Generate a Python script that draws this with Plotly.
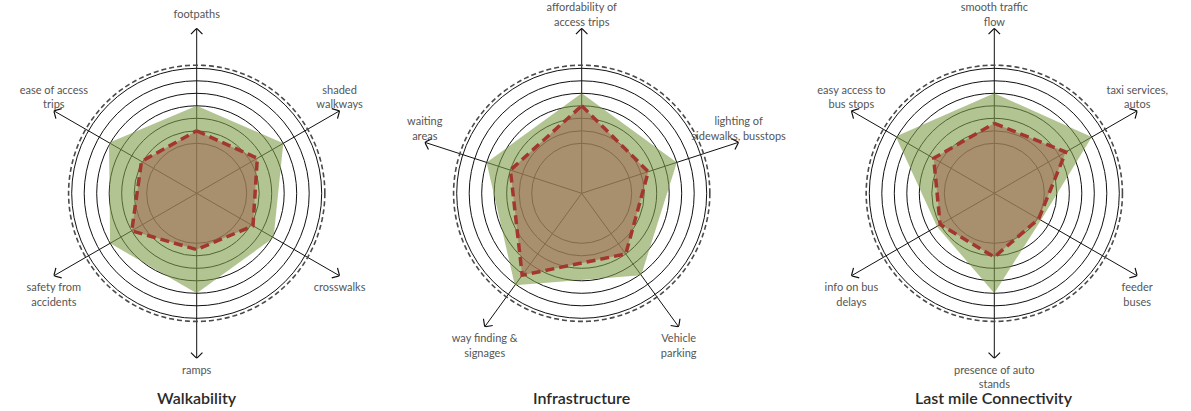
import numpy as np
import plotly.graph_objects as go

# ---------------- data ----------------
walk_title = "Walkability"
walk_cats = ["footpaths", "shaded<br>walkways", "crosswalks", "ramps",
             "safety from<br>accidents", "ease of access<br>trips"]
walk_green = [7.0, 8.0, 7.1, 8.0, 8.0, 8.1]
walk_red = [5.0, 5.6, 5.2, 4.5, 6.0, 5.1]

infra_title = "Infrastructure"
infra_cats = ["affordability of<br>access trips", "lighting of<br>sidewalks, busstops",
              "Vehicle<br>parking", "way finding &amp;<br>signages", "waiting<br>areas"]
infra_green = [8.0, 8.0, 8.1, 9.1, 8.0]
infra_red = [7.0, 5.6, 6.0, 8.1, 6.0]

last_title = "Last mile Connectivity"
last_cats = ["smooth traffic<br>flow", "taxi services,<br>autos", "feeder<br>buses",
             "presence of auto<br>stands", "info on bus<br>delays", "easy access to<br>bus stops"]
last_green = [8.0, 9.0, 4.3, 8.0, 5.3, 9.1]
last_red = [5.6, 6.6, 4.1, 5.1, 5.0, 5.6]

circle_levels = [4, 5, 6, 7, 8, 9, 10]
outer_dashed_level = 10.25
axis_length = 13.2

# ---------------- styling ----------------
W, H = 1191, 411
centers_px = [(196.7, 193.3), (581.7, 193.3), (994.3, 193.3)]
radius_px = 165.0
FONT = "Lato"
GREEN = "rgba(127,157,72,0.6)"
BROWN = "rgba(161,109,87,0.6)"
RED = "#a3372f"

charts = [
    (walk_title, walk_cats, walk_green, walk_red),
    (infra_title, infra_cats, infra_green, infra_red),
    (last_title, last_cats, last_green, last_red),
]

fig = go.Figure()
layout_polars = {}
annotations = []


def to_polar(x, y):
    return float(np.hypot(x, y)), float(np.degrees(np.arctan2(y, x)))


for i, (title, cats, green, red) in enumerate(charts):
    sub = "polar" if i == 0 else f"polar{i+1}"
    n = len(cats)
    ang = [90 - k * 360.0 / n for k in range(n)]

    # dashed outer circle
    th = np.linspace(0, 360, 361)
    fig.add_trace(go.Scatterpolar(
        r=[outer_dashed_level] * len(th), theta=th, mode="lines",
        line=dict(color="#4a4a4a", width=1.6, dash="5px,3px"),
        subplot=sub, hoverinfo="skip", showlegend=False))

    # arrow heads (chevrons) at axis tips
    rr, tt = [], []
    arm, spread = 0.65, 45
    for a in ang:
        ar = np.radians(a)
        tip = np.array([axis_length * np.cos(ar), axis_length * np.sin(ar)])
        pts = []
        for s in (spread, -spread):
            b = np.radians(a + 180 + s)
            pts.append(tip + arm * np.array([np.cos(b), np.sin(b)]))
        for p in (pts[0], tip, pts[1]):
            r_, t_ = to_polar(*p)
            rr.append(r_)
            tt.append(t_)
        rr.append(None)
        tt.append(None)
    fig.add_trace(go.Scatterpolar(
        r=rr, theta=tt, mode="lines", line=dict(color="#111", width=1.2),
        subplot=sub, hoverinfo="skip", showlegend=False, cliponaxis=False))

    # green polygon
    fig.add_trace(go.Scatterpolar(
        r=green + [green[0]], theta=ang + [ang[0]], mode="lines", fill="toself",
        fillcolor=GREEN, line=dict(width=0), subplot=sub, showlegend=False))

    # brown polygon with red dashed border
    fig.add_trace(go.Scatterpolar(
        r=red + [red[0]], theta=ang + [ang[0]], mode="lines", fill="toself",
        fillcolor=BROWN, line=dict(color=RED, width=3.5, dash="9px,5px"),
        subplot=sub, showlegend=False))

    # axis labels (invisible markers set the text offset from the tips)
    is_top = [np.sin(np.radians(a)) > 0 for a in ang]
    pos = ["top center" if t else "bottom center" for t in is_top]
    msize = [0 if (t and "<br>" in c) else 10 for t, c in zip(is_top, cats)]
    fig.add_trace(go.Scatterpolar(
        r=[axis_length] * n, theta=ang, mode="markers+text", text=cats, textposition=pos,
        marker=dict(size=msize, opacity=0),
        textfont=dict(family=FONT, size=11, color="#555"),
        subplot=sub, showlegend=False, cliponaxis=False, hoverinfo="skip"))

    cx, cy = centers_px[i]
    cyb = H - cy
    layout_polars[sub] = dict(
        domain=dict(x=[(cx - radius_px) / W, (cx + radius_px) / W],
                    y=[(cyb - radius_px) / H, (cyb + radius_px) / H]),
        bgcolor="rgba(0,0,0,0)",
        radialaxis=dict(range=[0, axis_length], tickmode="array", tickvals=circle_levels,
                        showticklabels=False, ticks="", showline=False,
                        gridcolor="#111", gridwidth=1),
        angularaxis=dict(tickmode="array", tickvals=[a % 360 for a in ang],
                         showticklabels=False, ticks="", showline=False,
                         gridcolor="#111", gridwidth=1,
                         direction="counterclockwise", rotation=0),
    )
    annotations.append(dict(
        text=title, x=cx / W, y=(H - 397) / H, xref="paper", yref="paper",
        xanchor="center", yanchor="middle", showarrow=False,
        font=dict(family=FONT, size=16, color="#2a2a2a", weight=600)))

fig.update_layout(
    width=W, height=H, margin=dict(l=0, r=0, t=0, b=0),
    paper_bgcolor="white", plot_bgcolor="white", showlegend=False,
    annotations=annotations, **layout_polars)

fig.write_html("out.html", config={"displayModeBar": False},
               post_script="document.body.style.margin='0px';document.body.style.overflow='hidden';")
